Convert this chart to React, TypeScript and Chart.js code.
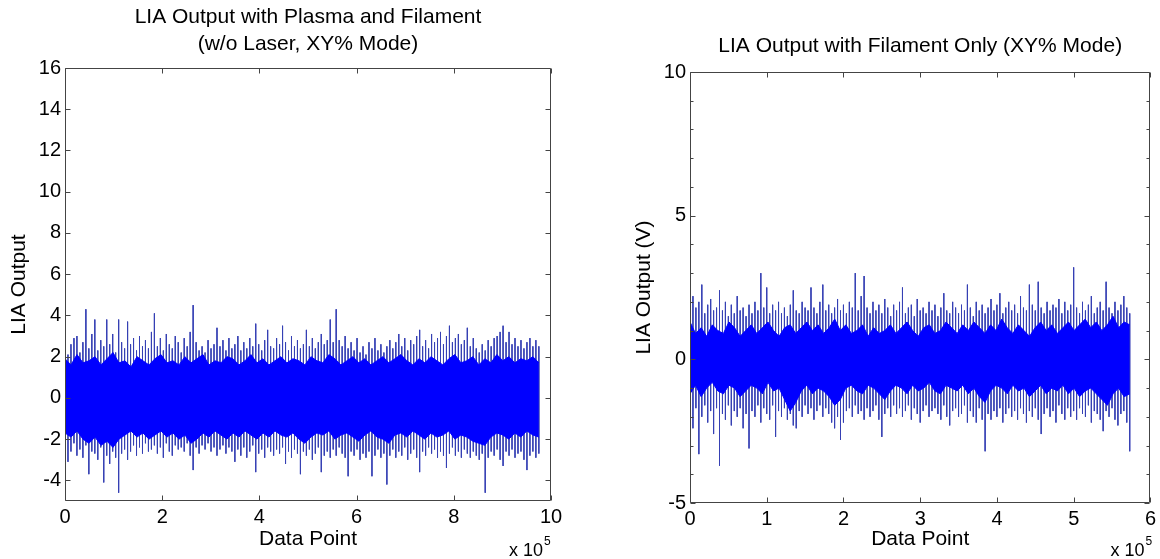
import React, { useEffect, useRef } from 'react';
import { Chart, registerables } from 'chart.js';

Chart.register(...registerables);

// ---------- text ----------
const LEFT_TITLE = ['LIA Output with Plasma and Filament', '(w/o Laser, XY% Mode)'];
const RIGHT_TITLE = 'LIA Output with Filament Only (XY% Mode)';
const LEFT_Y_LABEL = 'LIA Output';
const RIGHT_Y_LABEL = 'LIA Output (V)';
const X_LABEL = 'Data Point';
const X_EXPONENT = '5';

// ---------- axes ----------
const X_SCALE = 1e5;
const LEFT_X_TICKS = [0, 2, 4, 6, 8, 10];
const LEFT_Y_TICKS = [-4, -2, 0, 2, 4, 6, 8, 10, 12, 14, 16];
const LEFT_Y_RANGE = [-5, 16];
const LEFT_X_RANGE = [0, 10];
const RIGHT_X_TICKS = [0, 1, 2, 3, 4, 5, 6];
const RIGHT_Y_TICKS = [-5, 0, 5, 10];
const RIGHT_Y_MINOR = [-4, -3, -2, -1, 1, 2, 3, 4, 6, 7, 8, 9];
const RIGHT_Y_RANGE = [-5, 10];
const RIGHT_X_RANGE = [0, 6];

// ---------- data ----------
// Left panel: per-bin spike maxima / minima and the dense core envelope
const LEFT_TOTAL_POINTS = 975000;
const LEFT_HI = [
  3.2, 2.1, 2.6, 2.9, 3.0, 2.2, 2.7, 4.3, 2.4, 3.1,
  3.8, 2.3, 2.8, 2.5, 3.8, 2.6, 3.1, 2.2, 3.8, 2.7,
  2.4, 3.7, 2.6, 2.9, 2.3, 3.0, 2.5, 2.8, 2.4, 3.2,
  4.1, 2.5, 2.9, 2.3, 3.1, 2.6, 2.4, 3.0, 2.7, 2.2,
  2.9, 2.5, 3.2, 4.5, 2.7, 2.3, 2.5, 2.2, 2.8, 2.4,
  2.6, 3.4, 2.5, 2.8, 2.3, 2.9, 2.4, 2.6, 3.0, 2.3,
  2.7, 2.4, 2.9, 2.5, 3.6, 2.6, 2.3, 2.8, 3.3, 2.5,
  2.4, 2.9, 2.6, 3.5, 2.7, 2.3, 3.0, 2.5, 2.8, 2.4,
  2.6, 3.3, 2.5, 2.9, 2.4, 2.7, 3.1, 2.6, 2.8, 3.8,
  2.7, 4.3, 2.8, 2.5, 3.0, 2.4, 2.7, 2.3, 2.9, 2.2,
  2.5, 2.1, 2.7, 2.4, 2.9, 2.3, 2.6, 2.2, 2.5, 2.8,
  2.4, 2.7, 3.1, 2.5, 2.9, 2.3, 2.8, 2.6, 3.0, 3.3,
  2.5, 2.8, 2.4, 3.1, 2.7, 2.9, 3.2, 2.6, 3.0, 3.5,
  2.7, 2.9, 3.1, 2.6, 2.8, 3.4, 2.5, 2.9, 2.4, 2.2,
  2.6, 2.3, 2.8, 2.5, 2.9, 3.0, 3.2, 3.5, 2.7, 3.2,
  2.6, 2.9, 2.5, 2.8, 2.4, 2.7, 2.9, 2.5, 2.8, 2.5,
];
const LEFT_LO = [
  -2.4, -3.1, -2.6, -2.2, -2.8, -2.5, -2.9, -2.3, -3.7, -2.6,
  -2.7, -3.0, -2.4, -4.1, -2.8, -3.2, -2.6, -2.9, -4.6, -2.7,
  -2.5, -3.0, -2.6, -2.3, -2.8, -2.4, -2.7, -2.2, -2.6, -2.5,
  -2.3, -2.7, -2.4, -2.9, -2.2, -2.6, -2.8, -2.3, -2.5, -2.4,
  -2.6, -2.2, -2.8, -3.5, -2.4, -2.7, -2.3, -2.5, -2.2, -2.6,
  -2.4, -2.8, -2.5, -2.3, -2.7, -2.4, -2.6, -3.1, -2.5, -2.8,
  -2.4, -2.9, -2.6, -2.3, -3.6, -2.7, -2.5, -2.9, -2.4, -2.6,
  -2.8, -2.5, -2.7, -2.4, -3.2, -2.6, -2.9, -2.5, -2.7, -3.7,
  -2.6, -2.8, -2.5, -3.0, -2.7, -2.4, -3.6, -2.8, -2.6, -2.9,
  -2.5, -2.8, -2.4, -2.7, -2.9, -3.8, -2.6, -2.8, -2.5, -3.0,
  -2.7, -2.9, -2.6, -3.8, -2.8, -2.5, -2.9, -2.7, -4.2, -2.8,
  -2.5, -2.9, -2.6, -2.8, -2.4, -3.0, -2.7, -2.5, -2.9, -3.6,
  -2.6, -2.8, -2.4, -2.7, -2.5, -2.9, -2.6, -2.8, -3.4, -2.7,
  -2.4, -2.8, -2.6, -2.9, -2.5, -2.7, -2.9, -2.6, -2.8, -3.0,
  -2.7, -4.6, -2.9, -2.6, -2.8, -2.5, -3.0, -3.3, -2.6, -2.8,
  -2.5, -2.9, -2.7, -2.6, -3.0, -3.5, -2.8, -2.6, -2.9, -2.7,
];
const LEFT_CORE_HI = [
  1.9, 1.6, 2.1, 1.7, 1.8, 2.0, 1.6, 1.9, 2.2, 1.7,
  1.8, 1.5, 2.0, 1.8, 1.6, 1.9, 2.1, 1.7, 1.8, 1.6,
  2.0, 1.7, 1.9, 2.1, 1.6, 1.8, 1.7, 2.0, 1.9, 1.6,
  1.8, 2.1, 1.7, 1.9, 1.6, 1.8, 2.0, 1.7, 1.9, 1.8,
  1.6, 2.0, 1.8, 1.7, 2.1, 1.9, 1.6, 1.8, 2.0, 1.7,
  1.9, 1.6, 1.8, 2.0, 1.7, 1.9, 2.1, 1.8, 1.6, 1.9,
  1.7, 2.0, 1.8, 1.6, 1.9, 2.1, 1.7, 1.8, 2.0, 1.6,
  1.9, 1.7, 2.1, 1.8, 2.0, 1.7, 1.9, 1.8, 2.0, 1.7,
];
const LEFT_CORE_LO = [
  -1.7, -1.9, -1.6, -2.0, -2.2, -1.9, -2.3, -2.1, -2.4, -2.0,
  -1.8, -1.6, -1.9, -1.7, -2.0, -1.8, -1.6, -1.9, -1.7, -2.0,
  -1.8, -2.2, -2.0, -1.7, -1.9, -1.6, -1.8, -2.0, -1.7, -1.9,
  -1.6, -1.8, -2.0, -1.7, -1.9, -1.6, -1.8, -1.9, -1.7, -2.0,
  -2.2, -1.9, -1.7, -1.8, -1.6, -2.0, -1.8, -1.7, -1.9, -2.1,
  -1.8, -1.6, -1.9, -2.0, -2.2, -1.8, -1.7, -1.9, -1.6, -1.8,
  -2.0, -1.7, -1.9, -1.8, -1.6, -2.0, -1.8, -1.9, -2.1, -2.2,
  -2.3, -1.9, -1.7, -1.8, -2.0, -1.7, -1.9, -1.6, -1.8, -1.9,
];

// Right panel
const RIGHT_TOTAL_POINTS = 573000;
const RIGHT_HI = [
  2.7, 2.2, 1.8, 2.0, 2.6, 1.6, 1.9, 2.1, 1.7, 1.8,
  2.4, 1.7, 2.0, 1.5, 1.9, 1.6, 2.2, 1.7, 1.8, 1.5,
  1.9, 1.6, 2.0, 1.7, 3.0, 1.8, 2.5, 1.6, 1.9, 1.7,
  2.0, 1.6, 1.8, 1.5, 1.9, 2.4, 1.7, 1.6, 2.0, 1.8,
  1.7, 2.5, 1.8, 1.6, 2.0, 2.6, 1.7, 1.9, 1.6, 1.8,
  2.1, 1.7, 1.9, 1.6, 2.0, 1.8, 3.0, 1.7, 2.2, 2.9,
  1.8, 1.6, 2.0, 1.7, 1.9, 1.6, 2.1, 1.8, 1.5, 1.9,
  1.7, 2.0, 2.5, 1.6, 1.8, 1.9, 1.5, 2.1, 1.7, 1.8,
  1.6, 2.0, 1.7, 1.9, 1.5, 1.8, 2.3, 1.7, 1.6, 2.0,
  1.8, 1.6, 1.9, 1.7, 2.6, 1.8, 1.5, 2.0, 1.7, 1.9,
  1.6, 1.8, 2.1, 1.7, 1.9, 2.3, 1.6, 1.8, 2.0, 1.7,
  1.9, 1.6, 2.2, 1.8, 1.7, 2.6, 1.9, 1.7, 2.7, 1.8,
  1.6, 2.0, 1.7, 1.9, 1.8, 2.1, 1.6, 2.0, 1.7, 1.9,
  3.2, 1.8, 1.6, 2.0, 1.7, 1.9, 2.2, 1.6, 1.8, 2.0,
  1.7, 2.7, 1.8, 1.6, 2.0, 1.7, 1.9, 2.2, 1.8, 1.6,
];
const RIGHT_LO = [
  -1.9, -2.4, -1.7, -3.3, -2.0, -1.6, -2.2, -1.8, -2.6, -1.7,
  -3.7, -1.9, -2.1, -1.6, -2.3, -1.8, -2.0, -1.7, -2.4, -1.9,
  -3.1, -1.8, -2.0, -1.6, -2.2, -1.7, -1.9, -2.1, -1.6, -2.7,
  -1.8, -2.0, -1.7, -2.1, -1.9, -2.3, -2.4, -1.8, -2.0, -1.6,
  -1.9, -1.7, -2.1, -1.8, -1.6, -2.0, -1.7, -1.9, -2.2, -2.4,
  -2.0, -2.8, -2.2, -1.8, -1.7, -2.0, -1.6, -1.9, -1.8, -2.1,
  -1.7, -2.0, -1.8, -1.6, -2.1, -2.7, -1.9, -1.7, -2.0, -1.6,
  -1.9, -1.7, -2.0, -1.8, -1.6, -2.1, -1.7, -1.9, -2.2, -1.8,
  -1.6, -2.0, -1.8, -1.7, -1.9, -2.1, -1.6, -2.0, -2.3, -1.8,
  -1.7, -2.0, -1.9, -1.6, -2.2, -1.8, -2.0, -2.2, -1.7, -2.1,
  -3.2, -1.9, -2.1, -1.8, -2.0, -1.7, -2.2, -1.9, -1.7, -2.0,
  -1.8, -2.1, -1.7, -1.9, -2.2, -1.8, -2.0, -1.7, -2.1, -2.6,
  -1.9, -1.7, -2.0, -1.8, -2.2, -1.6, -1.9, -2.1, -1.7, -2.0,
  -1.8, -2.1, -1.7, -1.9, -2.0, -1.6, -2.2, -1.8, -1.9, -2.1,
  -2.5, -1.8, -2.0, -1.7, -2.1, -2.3, -1.9, -1.8, -2.2, -3.2,
];
const RIGHT_CORE_HI = [
  1.3, 0.9, 1.1, 0.8, 1.2, 1.0, 0.9, 1.3, 1.1, 0.8,
  1.0, 1.2, 0.9, 1.1, 1.3, 1.0, 0.8, 1.1, 1.2, 0.9,
  1.1, 1.3, 1.0, 1.2, 0.9, 1.1, 1.4, 1.0, 1.2, 0.9,
  1.0, 1.2, 0.8, 1.1, 0.9, 1.0, 1.2, 0.9, 1.1, 1.3,
  1.0, 0.8, 1.1, 1.2, 0.9, 1.0, 1.3, 1.1, 0.9, 1.2,
  1.0, 1.3, 1.1, 0.9, 1.2, 1.0, 1.4, 1.1, 0.9, 1.2,
  1.0, 0.8, 1.1, 1.3, 1.0, 1.2, 0.9, 1.1, 1.3, 1.0,
  1.2, 1.4, 1.1, 1.3, 1.0, 1.2, 1.5, 1.1, 1.3, 1.2,
];
const RIGHT_CORE_LO = [
  -1.2, -0.9, -1.3, -1.0, -0.8, -1.1, -1.2, -0.9, -1.0, -1.3,
  -1.1, -0.9, -1.0, -1.2, -0.8, -1.1, -1.0, -1.4, -1.8, -1.5,
  -1.1, -0.9, -1.2, -1.0, -1.1, -1.3, -1.6, -1.4, -1.0, -0.9,
  -1.1, -1.2, -0.9, -1.0, -1.2, -1.4, -1.1, -0.9, -1.0, -1.2,
  -0.9, -1.1, -1.0, -0.8, -1.1, -1.2, -0.9, -1.0, -1.1, -0.9,
  -1.2, -1.0, -1.3, -1.5, -1.1, -0.9, -1.0, -1.2, -0.9, -1.1,
  -1.0, -1.3, -1.1, -0.9, -1.2, -1.0, -1.1, -0.9, -1.2, -1.0,
  -1.3, -1.1, -1.0, -1.2, -1.4, -1.6, -1.2, -1.0, -1.3, -1.2,
];

// ---------- style ----------
const FONT = "'Liberation Sans', Arial, sans-serif";
const CORE_COLOR = '#0000ff';
const SPIKE_COLOR = '#3640b4';
const FRAME_COLOR = '#444444';

type Pt = { x: number; y: number | null };

function positions(n: number, total: number) {
  const step = total / (n - 1);
  return Array.from({ length: n }, (_, i) => i * step);
}

function spikes(hi: number[], lo: number[], total: number): Pt[] {
  const xs = positions(hi.length, total);
  const pts: Pt[] = [];
  xs.forEach((x, i) => {
    pts.push({ x, y: hi[i] });
    pts.push({ x, y: lo[i] });
    pts.push({ x, y: null });
  });
  return pts;
}

function band(values: number[], total: number): Pt[] {
  const xs = positions(values.length, total);
  return xs.map((x, i) => ({ x, y: values[i] }));
}

const framePlugin = {
  id: 'matlabFrame',
  afterDatasetsDraw(chart: any, _args: any, opts: any) {
    const { ctx, chartArea, scales } = chart;
    const { left, right, top, bottom } = chartArea;
    const x = scales.x;
    const y = scales.y;
    ctx.save();
    ctx.strokeStyle = FRAME_COLOR;
    ctx.lineWidth = 1;
    const L = Math.round(left) + 0.5;
    const R = Math.round(right) - 0.5;
    const T = Math.round(top) + 0.5;
    const B = Math.round(bottom) - 0.5;
    ctx.beginPath();
    ctx.rect(L, T, R - L, B - T);
    ctx.stroke();
    const major = 5;
    const minor = 3;
    ctx.beginPath();
    (opts.xTicks as number[]).forEach((v) => {
      const px = Math.round(x.getPixelForValue(v * X_SCALE)) + 0.5;
      ctx.moveTo(px, B);
      ctx.lineTo(px, B - major);
      ctx.moveTo(px, T);
      ctx.lineTo(px, T + major);
    });
    (opts.yTicks as number[]).forEach((v) => {
      const py = Math.round(y.getPixelForValue(v)) + 0.5;
      ctx.moveTo(L, py);
      ctx.lineTo(L + major, py);
      ctx.moveTo(R, py);
      ctx.lineTo(R - major, py);
    });
    ((opts.yMinor || []) as number[]).forEach((v) => {
      const py = Math.round(y.getPixelForValue(v)) + 0.5;
      ctx.moveTo(L, py);
      ctx.lineTo(L + minor, py);
      ctx.moveTo(R, py);
      ctx.lineTo(R - minor, py);
    });
    ctx.stroke();
    // "x 10^5" multiplier
    ctx.fillStyle = '#000';
    ctx.textBaseline = 'alphabetic';
    ctx.textAlign = 'left';
    ctx.font = `18px ${FONT}`;
    const base = 'x 10';
    const w = ctx.measureText(base).width;
    const startX = right + opts.expOffset - w;
    ctx.fillText(base, startX, 556);
    ctx.font = `12px ${FONT}`;
    ctx.fillText(X_EXPONENT, startX + w + 1, 545);
    ctx.restore();
  },
};

function makeConfig(p: {
  title: string | string[];
  titlePad: { top: number; bottom: number };
  yLabel: string;
  yLabelPad: number;
  spikes: Pt[];
  coreHi: Pt[];
  coreLo: Pt[];
  xRange: number[];
  yRange: number[];
  xTicks: number[];
  yTicks: number[];
  yMinor?: number[];
  yWidth: number;
  xHeight: number;
  rightPad: number;
  expOffset: number;
}) {
  const tickFont = { family: FONT, size: 20 };
  const labelFont = { family: FONT, size: 21 };
  return {
    type: 'line' as const,
    data: {
      datasets: [
        {
          data: p.coreHi,
          borderColor: CORE_COLOR,
          borderWidth: 1,
          pointRadius: 0,
          fill: false,
          tension: 0,
        },
        {
          data: p.coreLo,
          borderColor: CORE_COLOR,
          backgroundColor: CORE_COLOR,
          borderWidth: 1,
          pointRadius: 0,
          fill: '-1',
          tension: 0,
        },
        {
          data: p.spikes,
          borderColor: SPIKE_COLOR,
          borderWidth: 1,
          pointRadius: 0,
          fill: false,
          tension: 0,
          spanGaps: false,
        },
      ],
    },
    options: {
      animation: false as const,
      responsive: false,
      events: [],
      layout: { padding: { left: 0, right: p.rightPad, top: 0, bottom: 0 } },
      plugins: {
        legend: { display: false },
        tooltip: { enabled: false },
        title: {
          display: true,
          fullSize: false,
          text: p.title,
          color: '#000',
          font: { family: FONT, size: 21, weight: 'normal' as const, lineHeight: 27 / 21 },
          padding: p.titlePad,
        },
        matlabFrame: { xTicks: p.xTicks, yTicks: p.yTicks, yMinor: p.yMinor, expOffset: p.expOffset },
      },
      scales: {
        x: {
          type: 'linear' as const,
          min: p.xRange[0] * X_SCALE,
          max: p.xRange[1] * X_SCALE,
          afterBuildTicks: (s: any) => {
            s.ticks = p.xTicks.map((v) => ({ value: v * X_SCALE }));
          },
          afterFit: (s: any) => {
            s.height = p.xHeight;
          },
          ticks: {
            autoSkip: false,
            maxRotation: 0,
            color: '#000',
            font: tickFont,
            padding: 4,
            callback: (v: any) => String(Math.round((v as number) / X_SCALE)),
          },
          grid: { display: false, drawTicks: false },
          border: { display: false },
          title: { display: true, text: X_LABEL, color: '#000', font: labelFont, padding: { top: 0, bottom: 7 } },
        },
        y: {
          type: 'linear' as const,
          min: p.yRange[0],
          max: p.yRange[1],
          afterBuildTicks: (s: any) => {
            s.ticks = p.yTicks.map((v) => ({ value: v }));
          },
          afterFit: (s: any) => {
            s.width = p.yWidth;
          },
          ticks: { autoSkip: false, color: '#000', font: tickFont, padding: 4 },
          grid: { display: false, drawTicks: false },
          border: { display: false },
          title: { display: true, text: p.yLabel, color: '#000', font: labelFont, padding: { top: p.yLabelPad, bottom: 0 } },
        },
      },
    },
    plugins: [framePlugin],
  };
}

export default function App() {
  const leftRef = useRef<HTMLCanvasElement>(null);
  const rightRef = useRef<HTMLCanvasElement>(null);

  useEffect(() => {
    const left = new Chart(
      leftRef.current as HTMLCanvasElement,
      makeConfig({
        title: LEFT_TITLE,
        titlePad: { top: 4, bottom: 10 },
        yLabel: LEFT_Y_LABEL,
        yLabelPad: 7,
        spikes: spikes(LEFT_HI, LEFT_LO, LEFT_TOTAL_POINTS),
        coreHi: band(LEFT_CORE_HI, LEFT_TOTAL_POINTS),
        coreLo: band(LEFT_CORE_LO, LEFT_TOTAL_POINTS),
        xRange: LEFT_X_RANGE,
        yRange: LEFT_Y_RANGE,
        xTicks: LEFT_X_TICKS,
        yTicks: LEFT_Y_TICKS,
        yWidth: 65,
        xHeight: 58,
        rightPad: 29,
        expOffset: -8,
      }) as any
    );
    const right = new Chart(
      rightRef.current as HTMLCanvasElement,
      makeConfig({
        title: RIGHT_TITLE,
        titlePad: { top: 33, bottom: 12 },
        yLabel: RIGHT_Y_LABEL,
        yLabelPad: 52,
        spikes: spikes(RIGHT_HI, RIGHT_LO, RIGHT_TOTAL_POINTS),
        coreHi: band(RIGHT_CORE_HI, RIGHT_TOTAL_POINTS),
        coreLo: band(RIGHT_CORE_LO, RIGHT_TOTAL_POINTS),
        xRange: RIGHT_X_RANGE,
        yRange: RIGHT_Y_RANGE,
        xTicks: RIGHT_X_TICKS,
        yTicks: RIGHT_Y_TICKS,
        yMinor: RIGHT_Y_MINOR,
        yWidth: 110,
        xHeight: 56,
        rightPad: 9,
        expOffset: -6,
      }) as any
    );
    return () => {
      left.destroy();
      right.destroy();
    };
  }, []);

  return (
    <div style={{ position: 'fixed', left: 0, top: 0, width: 1160, height: 559, background: '#fff' }}>
      <canvas
        ref={leftRef}
        width={580}
        height={559}
        style={{ position: 'absolute', left: 0, top: 0, width: 580, height: 559 }}
      />
      <canvas
        ref={rightRef}
        width={580}
        height={559}
        style={{ position: 'absolute', left: 580, top: 0, width: 580, height: 559 }}
      />
    </div>
  );
}
